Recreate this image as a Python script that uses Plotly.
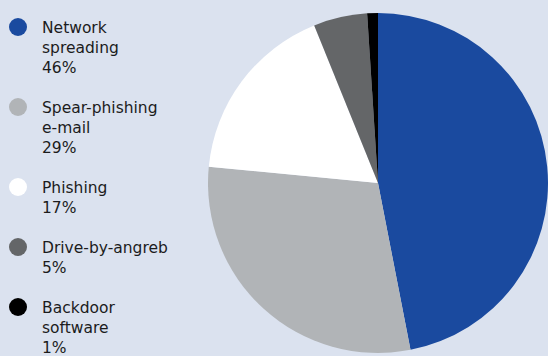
import plotly.graph_objects as go

# Attack vectors and their shares (%)
labels = ["Network\nspreading", "Spear-phishing\ne-mail", "Phishing", "Drive-by-angreb", "Backdoor\nsoftware"]
values = [46, 29, 17, 5, 1]
colors = ["#1a4a9f", "#b1b4b7", "#ffffff", "#646668", "#000000"]

W, H = 548, 356
BG = "#dbe2ef"
TEXT = "#1c1c1c"
FONT = "DejaVu Sans"
FS = 15.5
LINE_H = 20      # px per text line in the legend
GAP = 20         # px between legend entries
DOT_D = 18       # legend dot diameter (px)
DOT_CX = 18      # legend dot centre x (px)
TEXT_X = 41      # legend text left edge (px)
FIRST_Y = 27     # centre of first legend line (px from top)

fig = go.Figure()

fig.add_trace(go.Pie(
    labels=[l.replace("\n", " ") for l in labels],
    values=values,
    marker=dict(colors=colors, line=dict(width=0)),
    sort=False,
    direction="clockwise",
    rotation=0,
    textinfo="none",
    hoverinfo="none",
    showlegend=False,
    domain=dict(x=[208 / W, 1.0], y=[(H - 183 - 172) / H, (H - 183 + 172) / H]),
))

# Custom legend: round dots with multi-line captions
shapes, annotations = [], []
y = FIRST_Y
for lab, val, col in zip(labels, values, colors):
    lines = lab.split("\n") + [f"{val}%"]
    shapes.append(dict(
        type="circle", xref="paper", yref="paper",
        x0=(DOT_CX - DOT_D / 2) / W, x1=(DOT_CX + DOT_D / 2) / W,
        y0=(H - y - DOT_D / 2) / H, y1=(H - y + DOT_D / 2) / H,
        fillcolor=col, line=dict(width=0),
    ))
    annotations.append(dict(
        xref="paper", yref="paper",
        x=TEXT_X / W, y=(H - y + LINE_H / 2 - 1) / H,
        xanchor="left", yanchor="top", align="left",
        text="<br>".join(lines), showarrow=False,
        font=dict(family=FONT, size=FS, color=TEXT),
        borderpad=0,
    ))
    y += len(lines) * LINE_H + GAP

fig.update_layout(
    width=W, height=H,
    margin=dict(l=0, r=0, t=0, b=0),
    paper_bgcolor=BG, plot_bgcolor=BG,
    shapes=shapes, annotations=annotations,
    font=dict(family=FONT, size=FS, color=TEXT),
)

fig.write_html("out.html")
